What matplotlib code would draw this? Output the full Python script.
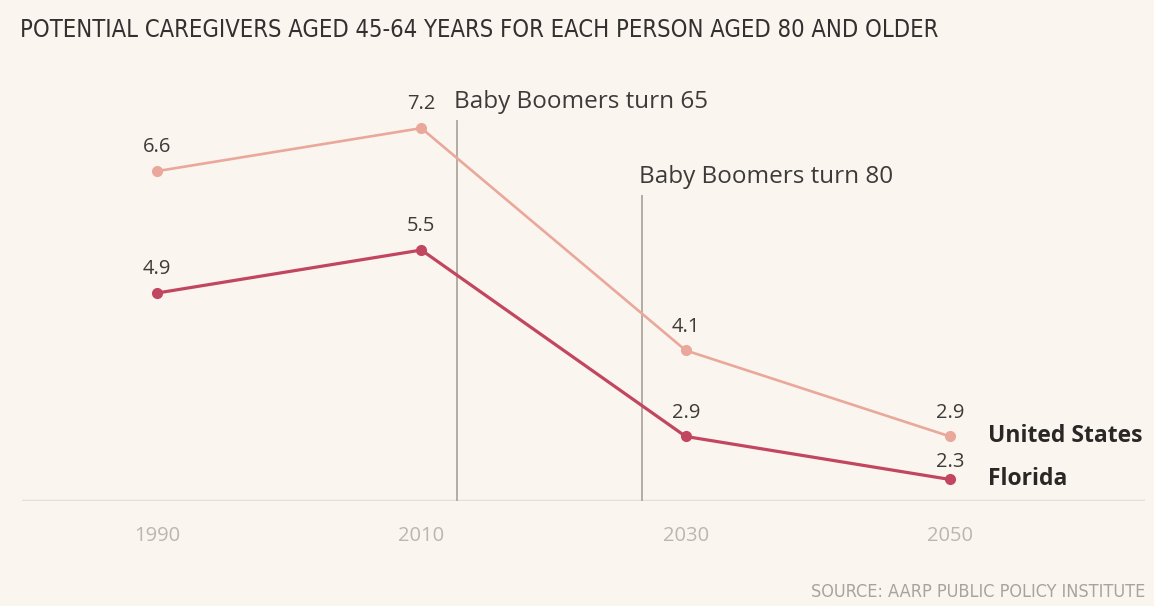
import matplotlib.pyplot as plt

years = [1990, 2010, 2030, 2050]
us_ratio = [6.6, 7.2, 4.1, 2.9]
fl_ratio = [4.9, 5.5, 2.9, 2.3]
series_names = ["United States", "Florida"]
events = [(2012.7, 7.3, "Baby Boomers turn 65"), (2026.7, 6.25, "Baby Boomers turn 80")]

bg = "#faf5ef"
us_color = "#eaa89b"
fl_color = "#c2465f"
text_color = "#3d3b39"

fig = plt.figure(figsize=(11.54, 6.06), dpi=100, facecolor=bg)
ax = fig.add_axes([0.0191, 0.1733, 0.9731, 0.7277], facecolor=bg)
ax.set_xlim(1979.79, 2064.75)
ax.set_ylim(2.0, 8.15)

for x, top, label in events:
    ax.plot([x, x], [2.0, top], color="#b3ada6", lw=1.4, zorder=1)
    ax.text(x - 0.25, top + 0.1, label, fontsize=17.5, family="Open Sans",
            color=text_color, ha="left", va="bottom")

ax.axhline(2.0, color="#e6dfd7", lw=2.5, zorder=0)

ax.plot(years, us_ratio, color=us_color, lw=1.9, marker="o", ms=7, zorder=3)
ax.plot(years, fl_ratio, color=fl_color, lw=2.3, marker="o", ms=7, zorder=3)

for x, v in zip(years, us_ratio):
    ax.annotate(f"{v}", (x, v), xytext=(0, 10), textcoords="offset points",
                ha="center", va="bottom", fontsize=14.5, family="Open Sans", color=text_color)
for i, (x, v) in enumerate(zip(years, fl_ratio)):
    off = 5.5 if i == len(years) - 1 else 10
    ax.annotate(f"{v}", (x, v), xytext=(0, off), textcoords="offset points",
                ha="center", va="bottom", fontsize=14.5, family="Open Sans", color=text_color)

ax.annotate(series_names[0], (years[-1], us_ratio[-1]), xytext=(27, 0), textcoords="offset points",
            ha="left", va="center", fontsize=16.5, fontweight="bold", family="Open Sans", color="#2a2826")
ax.annotate(series_names[1], (years[-1], fl_ratio[-1]), xytext=(27, 0), textcoords="offset points",
            ha="left", va="center", fontsize=16.5, fontweight="bold", family="Open Sans", color="#2a2826")

ax.set_xticks(years)
ax.set_xticklabels([str(y) for y in years], fontsize=14.5, family="Open Sans", color="#bcb6af")
ax.tick_params(axis="x", length=0, pad=18)
ax.set_yticks([])
for s in ax.spines.values():
    s.set_visible(False)

fig.text(20 / 1154, 1 - 30 / 606, "POTENTIAL CAREGIVERS AGED 45-64 YEARS FOR EACH PERSON AGED 80 AND OLDER",
         fontsize=17, family="DejaVu Sans", fontstretch="condensed", color="#333130",
         ha="left", va="center")
fig.text(1145 / 1154, 1 - 592 / 606, "SOURCE: AARP PUBLIC POLICY INSTITUTE",
         fontsize=13, family="DejaVu Sans", fontstretch="condensed", color="#a9a39c",
         ha="right", va="center")

fig.savefig("out.png", dpi=100, facecolor=bg)
